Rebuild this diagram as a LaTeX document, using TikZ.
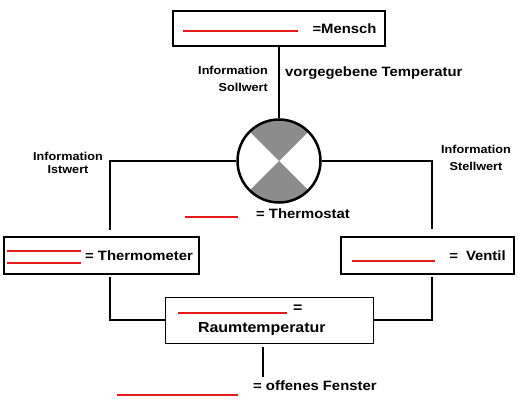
\documentclass[tikz,border=0pt]{standalone}
\usepackage{fontspec}
\setmainfont{Liberation Sans}[FakeStretch=1.1]
\usetikzlibrary{calc, positioning}
\definecolor{dither}{rgb}{0.55, 0.55, 0.55}
\definecolor{blankred}{rgb}{0.9, 0.1, 0.1}
\tikzstyle{person} = [rectangle, minimum width=212pt, minimum height=35pt, text centered, draw=black, line width=2.5pt, font=\fontsize{13.5}{16}\selectfont\bfseries]
\tikzstyle{device} = [rectangle, minimum width=195pt, minimum height=37pt, text centered, draw=black, line width=2.5pt, font=\fontsize{13.5}{16}\selectfont\bfseries]
\tikzstyle{roombox} = [rectangle, minimum width=208pt, minimum height=46pt, text width=182pt, align=left, draw=black, line width=1pt, font=\fontsize{14.5}{20}\selectfont\bfseries]
\tikzstyle{controller} = [circle, draw=black, line width=2.5pt, minimum size=83pt, inner sep=0pt, path picture={
  \fill[dither] (path picture bounding box.center) -- (path picture bounding box.north west) -- (path picture bounding box.north east) -- cycle;
  \fill[dither] (path picture bounding box.center) -- (path picture bounding box.south west) -- (path picture bounding box.south east) -- cycle;}]
\tikzstyle{info} = [inner sep=0pt, font=\fontsize{11.5}{17.5}\selectfont\bfseries]
\tikzstyle{caption} = [inner sep=0pt, font=\fontsize{13.5}{16}\selectfont\bfseries]
\tikzstyle{link} = [line width=2pt, -]
\tikzstyle{redline} = [draw=blankred, line width=1.2pt]

\begin{document}
\begin{tikzpicture}[x=1pt, y=-1pt, node distance=100pt]
\path[use as bounding box, fill=white] (0,0) rectangle (519,409);

% Regler in der Mitte
\node (thermo) [controller] at (279,161) {};

\node (mensch) [person, above of=thermo, yshift=32.5pt] {\hspace{131pt}=Mensch};

\node (thermometer) [device, below of=thermo, xshift=-177.5pt, yshift=5.5pt] {\hspace{75pt}= Thermometer\hspace{9pt}};
\node (ventil) [device, minimum width=173pt, below of=thermo, xshift=148.5pt, yshift=5.5pt] {\hspace{100pt}=\hspace{8pt}Ventil};

\node (raum) [roombox, below of=thermo, xshift=-10pt, yshift=-59pt] {\hspace*{115pt}=\\\hspace*{20pt}Raumtemperatur};

% Beschriftungen
\node (sollinfo) [info, align=right, anchor=east] at (268,79) {Information\\Sollwert};
\node (solltemp) [caption, anchor=west] at (285,73) {vorgegebene Temperatur};
\node (istinfo) [info, align=center, font=\fontsize{11.5}{12.5}\selectfont\bfseries] at (68,163) {Information\\Istwert};
\node (stellinfo) [info, align=center] at (476,158) {Information\\Stellwert};
\node (thermostat) [caption, anchor=west] at (256,214) {= Thermostat};
\node (fenster) [caption, anchor=west] at (253,386) {= offenes Fenster};
\coordinate (leak) at (263,377);

% Luecken zum Ausfuellen
\draw[redline] ([xshift=11pt, yshift=-2.5pt]mensch.west) -- ++(115,0);
\draw[redline] ([xshift=4pt, yshift=4.5pt]thermometer.west) -- ++(74,0);
\draw[redline] ([xshift=4pt, yshift=-7.5pt]thermometer.west) -- ++(74,0);
\draw[redline] ([xshift=12pt, yshift=-5.5pt]ventil.west) -- ++(83,0);
\draw[redline] ([xshift=13.5pt, yshift=7pt]raum.west) -- ++(109,0);
\draw[redline] ([xshift=-18pt, yshift=-3pt]thermostat.west) -- ++(-53,0);
\draw[redline] ([xshift=-15pt, yshift=-9pt]fenster.west) -- ++(-121,0);

\draw[link] (mensch) -- (thermo);
\draw[link, shorten >=6pt] (thermo.west) -| ([xshift=8.5pt]thermometer.north);
\draw[link, shorten >=7pt] (thermo.east) -| ([xshift=4.5pt]ventil.north);
\draw[link, shorten <=2pt] ([xshift=8.5pt]thermometer.south) |- (raum.west);
\draw[link, shorten <=2pt] ([xshift=4.5pt]ventil.south) |- (raum.east);
\draw[link, shorten <=3pt] ([xshift=-6pt]raum.south) -- (leak);

\end{tikzpicture}
\end{document}
